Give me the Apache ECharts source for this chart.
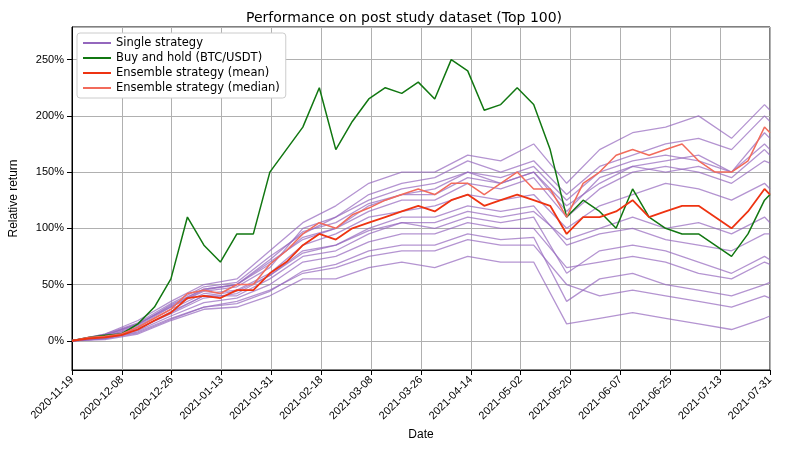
<!DOCTYPE html>
<html><head><meta charset="utf-8">
<script src="https://cdn.jsdelivr.net/npm/echarts@6/dist/echarts.min.js"></script>
<style>body{margin:0}#c{width:808px;height:455px}</style></head>
<body><div id="c"></div>
<script>
const tickLabels=["2020-11-19","2020-12-08","2020-12-26","2021-01-13","2021-01-31","2021-02-18","2021-03-08","2021-03-26","2021-04-14","2021-05-02","2021-05-20","2021-06-07","2021-06-25","2021-07-13","2021-07-31"];
const fineDays=[0,6,12,18,24,30,36,42,48,54,60,66,72,78,84,90,96,102,108,114,120,126,132,138,144,150,156,162,168,174,180,186,192,198,204,210,216,222,228,234,240,246,252,254];
const btc=[0,3,5,6,15,30,55,110,85,70,95,95,150,170,190,225,170,195,215,225,220,230,215,250,240,205,210,225,210,170,110,125,115,100,135,110,100,95,95,85,75,95,125,130];
const meanS=[0,2,3,5,10,18,25,38,40,38,45,45,60,70,85,95,90,100,105,110,115,120,115,125,130,120,125,130,125,120,95,110,110,115,125,110,115,120,120,110,100,115,135,130];
const medianS=[0,3,4,6,12,20,28,42,45,42,50,50,68,80,95,105,100,112,118,125,130,135,130,140,140,130,140,150,135,135,110,140,150,165,170,165,170,175,160,150,150,160,190,185];
const coarseDays=[0,12,24,36,48,60,72,84,96,108,120,132,144,156,168,180,192,204,216,228,240,252,254];
const singles=[
[0,3,10,25,40,40,55,75,80,95,105,105,115,110,115,90,100,110,100,105,95,110,105],
[0,5,15,30,45,50,70,90,100,120,130,130,145,140,150,120,140,155,160,165,150,175,170],
[0,2,8,20,30,35,45,60,65,75,80,80,90,85,85,50,40,45,40,35,30,40,38],
[0,4,12,28,42,45,60,85,95,110,115,120,130,125,130,100,120,130,140,135,125,140,135],
[0,6,18,35,50,55,80,105,120,140,150,150,165,160,175,140,170,185,190,200,180,210,205],
[0,1,6,18,28,30,40,55,55,65,70,65,75,70,70,15,20,25,20,15,10,20,22],
[0,3,11,24,38,42,58,80,85,100,110,110,120,115,120,85,95,100,90,85,80,95,95],
[0,5,14,32,46,50,68,92,100,115,125,125,140,135,145,110,135,150,155,150,140,160,158],
[0,2,9,22,34,38,50,70,75,88,95,95,105,100,100,65,70,75,70,60,55,70,68],
[0,4,13,30,44,48,65,100,110,130,140,145,160,150,160,130,155,165,175,180,170,200,195],
[0,3,10,26,40,44,58,78,85,98,105,100,110,105,110,60,80,85,80,70,60,75,72],
[0,6,16,33,48,52,75,95,110,125,135,140,150,145,155,125,150,160,165,160,150,185,180],
[0,2,7,19,30,33,44,62,68,80,85,85,95,90,92,35,55,60,50,45,40,50,52],
[0,5,15,31,46,50,72,97,105,122,130,135,150,140,150,115,145,155,150,155,145,170,165]
];
const toPts=(d,v)=>d.map((x,i)=>[x,v[i]/100]);
const series=[];
singles.forEach(s=>series.push({name:'Single strategy',type:'line',data:toPts(coarseDays,s),showSymbol:false,lineStyle:{width:1.3,color:'rgba(148,103,189,0.7)'},itemStyle:{color:'#9467bd'},z:1}));
series.push({name:'Buy and hold (BTC/USDT)',type:'line',data:toPts(fineDays,btc),showSymbol:false,lineStyle:{width:1.5,color:'#117711'},itemStyle:{color:'#117711'},z:3});
series.push({name:'Ensemble strategy (mean)',type:'line',data:toPts(fineDays,meanS),showSymbol:false,lineStyle:{width:1.8,color:'#ee3311'},itemStyle:{color:'#ee3311'},z:5});
series.push({name:'Ensemble strategy (median)',type:'line',data:toPts(fineDays,medianS),showSymbol:false,lineStyle:{width:1.5,color:'#f26b5b'},itemStyle:{color:'#f26b5b'},z:4});
const ch=echarts.init(document.getElementById('c'));
ch.setOption({
 animation:false,
 title:{text:'Performance on post study dataset (Top 100)',left:'center',top:6,textStyle:{fontSize:14,fontWeight:'normal',color:'#000',fontFamily:'DejaVu Sans'}},
 grid:{left:72,right:38,top:27,bottom:85,show:true,borderColor:'#000',borderWidth:1,backgroundColor:'transparent'},
 legend:{orient:'vertical',left:77,top:33,itemGap:3,itemWidth:28,itemHeight:2,icon:'rect',backgroundColor:'#fff',borderColor:'#ccc',borderWidth:1,borderRadius:3,padding:[4,6],textStyle:{fontSize:11.5,color:'#000',fontFamily:'DejaVu Sans'},data:['Single strategy','Buy and hold (BTC/USDT)','Ensemble strategy (mean)','Ensemble strategy (median)']},
 xAxis:{type:'value',min:0,max:254,interval:254/14,name:'Date',nameLocation:'middle',nameGap:50,nameTextStyle:{fontSize:12,color:'#000'},
  axisLine:{onZero:false,lineStyle:{color:'#000'}},axisTick:{lineStyle:{color:'#000'}},splitLine:{show:true,lineStyle:{color:'#b0b0b0'}},
  axisLabel:{rotate:45,color:'#000',fontSize:11,formatter:v=>tickLabels[Math.round(v/(254/14))]}},
 yAxis:{type:'value',min:-0.26,max:2.79,name:'Relative return',nameLocation:'middle',nameGap:52,nameTextStyle:{fontSize:12,color:'#000'},
  axisLine:{show:true,lineStyle:{color:'#000'}},axisTick:{show:true,lineStyle:{color:'#000'}},splitLine:{lineStyle:{color:'#b0b0b0'}},
  axisLabel:{color:'#000',fontSize:11,showMinLabel:false,showMaxLabel:false,formatter:v=>Math.round(v*100)+'%'}},
 series:series
});
</script></body></html>
